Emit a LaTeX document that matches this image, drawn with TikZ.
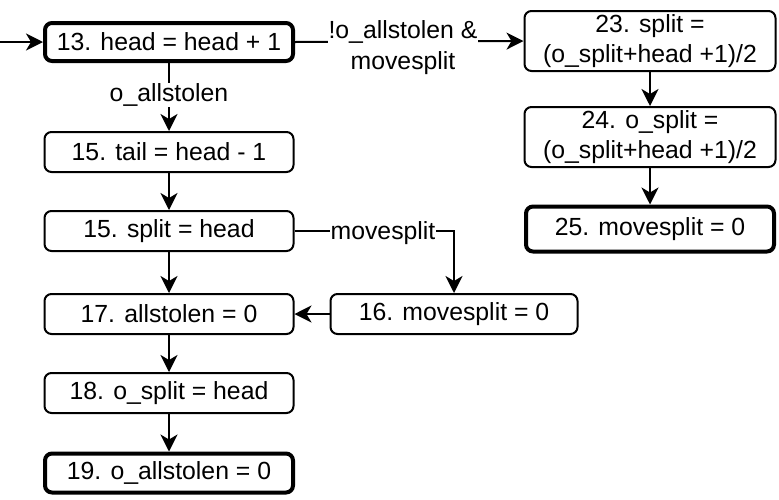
\documentclass[tikz,border=0pt]{standalone}
\usepackage{fontspec}
\setmainfont{Liberation Sans}
\usetikzlibrary{arrows.meta}
\tikzset{
  box/.style={draw, line width=2pt, rounded corners=7pt, fill=white, align=center, inner sep=0pt,
    font=\fontsize{24.8}{30}\selectfont},
  thickbox/.style={box, line width=4pt},
  conn/.style={line width=2pt, -{Stealth[length=17pt,width=17pt,inset=5pt]}},
  lbl/.style={fill=white, inner sep=1pt, align=center, font=\fontsize{24.8}{31}\selectfont}
}
\begin{document}
\begin{tikzpicture}[x=1pt,y=-1pt]
\useasboundingbox (0,0) rectangle (779,499);
\node[thickbox, minimum width=248pt, minimum height=38pt] (n13) at (169,42) {13. head = head + 1};
\node[box, minimum width=249pt, minimum height=40pt] (n15a) at (169,152) {15. tail = head - 1};
\node[box, minimum width=249pt, minimum height=40pt] (n15b) at (169,231) {15. split = head};
\node[box, minimum width=249pt, minimum height=40pt] (n17) at (169,314) {17. allstolen = 0};
\node[box, minimum width=249pt, minimum height=40pt] (n18) at (169,393) {18. o\_split = head};
\node[thickbox, minimum width=248pt, minimum height=39pt] (n19) at (169,473) {19. o\_allstolen = 0};
\node[box, minimum width=247pt, minimum height=40pt] (n16) at (454,314) {16. movesplit = 0};
\node[box, minimum width=251pt, minimum height=60pt] (n23) at (650,41) {23. split =\\(o\_split+head +1)/2};
\node[box, minimum width=251pt, minimum height=60pt] (n24) at (650,137) {24. o\_split =\\(o\_split+head +1)/2};
\node[thickbox, minimum width=248pt, minimum height=45pt] (n25) at (650,229) {25. movesplit = 0};
\coordinate (start) at (0,42);
\draw[conn] (start) -- (n13.west);
\draw[conn] (n13.east) -- (n23.west);
\node[lbl] (l1) at (403,48) {!o\_allstolen \&\\movesplit};
\draw[conn] (n13.south) -- (n15a.north);
\node[lbl] (l2) at (169,95) {o\_allstolen};
\draw[conn] (n15a.south) -- (n15b.north);
\draw[conn] (n15b.south) -- (n17.north);
\draw[conn] (n17.south) -- (n18.north);
\draw[conn] (n18.south) -- (n19.north);
\draw[conn] (n15b.east) -| (n16.north);
\node[lbl] (l3) at (383,233) {movesplit};
\draw[conn] (n16.west) -- (n17.east);
\draw[conn] (n23.south) -- (n24.north);
\draw[conn] (n24.south) -- (n25.north);
\end{tikzpicture}
\end{document}
